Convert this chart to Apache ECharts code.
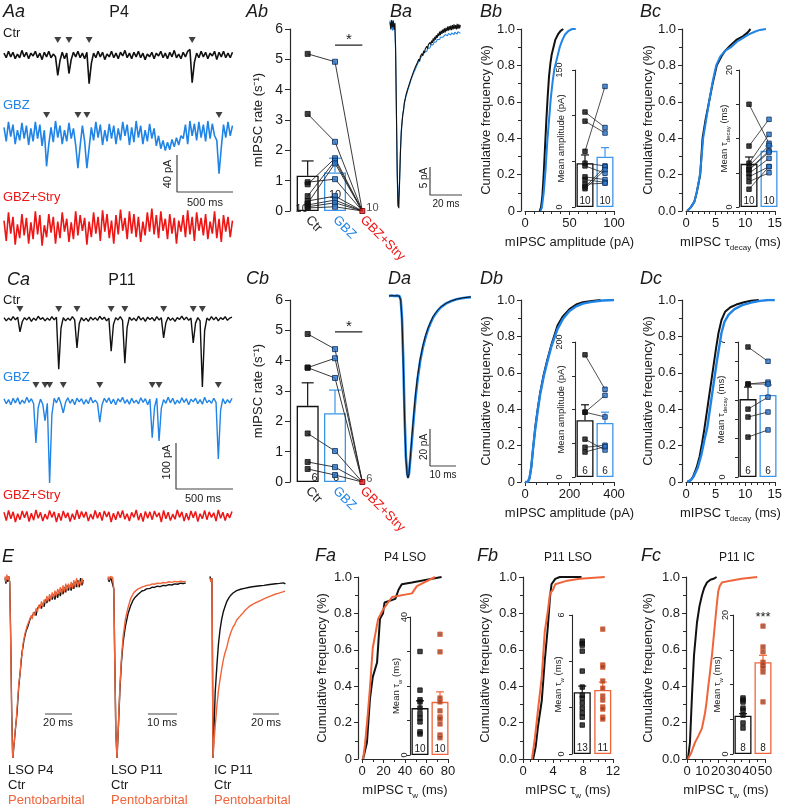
<!DOCTYPE html>
<html><head><meta charset="utf-8">
<script src="https://cdn.jsdelivr.net/npm/echarts@6/dist/echarts.min.js"></script>
<style>html,body{margin:0;padding:0;background:#fff}#c{width:785px;height:805px}</style>
</head><body><div id="c"></div>
<script>
// ================= DATA =================
// Aa: P4 spontaneous traces (pA relative to baseline), sampled every 20 ms
const dtP4 = 20;
const ctrP4 = [2,-3,4,-2,3,-4,1,-3,5,-2, 3,-4,2,-1,4,-3,2,-5,3,-2, 4,-3,1,-2,-22,-6,3,-4,2,-20, -5,3,-2,4,-3,2,-4,3,-31,-9,
 2,-3,4,-2,3,-5,1,-2,4,-3, 2,-4,3,-1,5,-3,2,-4,3,-2, 4,-3,2,-5,1,-2,3,-4,2,-1, 4,-3,2,-4,3,-2,5,-3,1,-4,
 3,-2,4,6,-30,-8,2,-3,4,-2, 3,-4,2,-1,4,-5,3,-2,4,-3, 2,-3,3];
const gbzP4 = [6,-9,12,-4,9,-12,3,-8,11,-6, 8,-13,5,-9,12,-6,9,-14,3,-36, -12,6,-10,13,-5,8,-12,3,-9,11, -6,5,-13,-38,-14,8,-9,-38,-16,6,
 -8,12,-5,9,-13,3,-9,10,-6,8, -12,5,-8,12,-3,9,-13,6,-10,13, -5,8,-12,3,-9,10,-6,5,-14,-3, -17,-8,-19,-10,-18,-7,-15,-5,-13,-3,
 -6,9,-12,13,-3,10,-8,12,-5,9, -9,13,-6,10,-3,-8,-44,-16,9,-5, 12,-3,8];
const stryP4 = [8,-14,17,-6,12,-18,4,-11,15,-8, 11,-17,6,-12,18,-7,14,-19,3,-10, 15,-5,12,-17,7,-11,17,-4,10,-15, 6,-12,18,-8,14,-3,11,-18,7,-10,
 17,-6,12,-14,19,-4,15,-11,8,-17, 14,-7,20,-3,11,-12,18,-6,15,-10, 12,-15,7,-8,17,-4,21,-7,14,-11, 18,-3,10,-12,15,-6,11,-17,8,-4,
 14,-10,19,-7,12,-14,17,-3,11,-8, 15,-12,7,-6,18,-11,10,-15,14,-4, 12,-10,8];
const ctrP4Events = [480, 580, 760, 1680];
const gbzP4Events = [380, 660, 740, 1920];
const scaleP4 = [500, 40];           // ms, pA

// Ca: P11 spontaneous traces, sampled every 20 ms
const dtP11 = 20;
const ctrP11 = [3,-4,2,-3,5,-2,4,-28,-6,3, -2,4,-5,2,-3,6,-1,3,-4,2, -3,5,-2,4,-109,-20,3,-4,2,-3, 5,-2,-63,-10,3,-4,2,-5,4,-2,
 3,-3,6,-1,4,-4,2,-70,-12,3, -2,5,-3,-96,-18,4,-3,2,-4,6, -2,3,-5,4,-1,3,-4,5,-2,3, -41,-8,4,-3,2,-5,3,-1,6,-2,
 4,-3,2,-52,-9,3,-4,-148,-25,2, -3,5,-2,4,-4,3,-1,5,-3,2, 4];
const gbzP11 = [5,-6,3,-8,6,-4,7,-7,2,-5, 8,-3,5,-6,-91,-14,4,-7,-43,-5, -178,-30,6,-4,8,-6,-26,-3,7,-5, 4,-8,6,-2,5,-7,3,-6,8,-4,
 2,-5,-46,-8,6,-3,7,-6,4,-8, 5,-2,8,-5,3,-7,6,-4,2,-6, 7,-3,5,-8,4,-80,-14,6,-87,-16, 3,-5,8,-4,6,-7,2,-5,7,-3,
 5,-8,4,-2,6,-6,3,-7,8,-4, 2,-5,6,-3,-126,-20,5,-6,3,-4, 6];
const stryP11 = [8,-10,12,-6,9,-13,5,-8,11,-4, 10,-12,6,-9,13,-5,8,-11,4,-7, 12,-3,9,-13,6,-10,11,-4,7,-12, 5,-8,13,-6,10,-3,9,-11,4,-7,
 12,-5,8,-10,11,-2,9,-13,6,-8, 10,-4,12,-7,5,-11,8,-3,13,-9, 6,-12,10,-5,9,-8,11,-2,7,-13, 12,-6,8,-10,4,-7,13,-3,9,-11,
 6,-9,11,-4,10,-12,5,-6,12,-8, 9,-3,7,-11,13,-5,8,-10,6,-4, 10];
const ctrP11Events = [140, 480, 640, 940, 1060, 1400, 1660, 1740];
const gbzP11Events = [280, 360, 400, 520, 840, 1300, 1360, 1880];
const scaleP11 = [500, 100];

// Ba: averaged P4 mIPSC (ms, pA)
const baCtr = [[0,0.5],[0.5,-0.8],[1,0.9],[1.5,-0.4],[2,0.7],[2.5,-0.9],[3,0.3],[3.5,-4],[4,-15],[4.5,-26],[5,-32],[5.5,-32.7],[6,-28],[6.5,-23],[7,-19.5],[7.5,-17.5],[8,-16],[8.5,-15.2],[9,-13.8],[9.5,-13.6],[10,-12.5],[10.5,-12.6],[11,-11.5],[11.5,-11.6],[12,-10.6],[12.5,-10.7],[13,-9.7],[13.5,-9.9],[14,-8.9],[14.5,-9.1],[15,-8.1],[15.5,-8.3],[16,-7.4],[16.5,-7.7],[17,-6.8],[17.5,-7.0],[18,-6.1],[18.5,-6.5],[19,-5.6],[19.5,-5.9],[20,-5.1],[20.5,-5.5],[21,-4.6],[21.5,-5.0],[22,-4.3],[22.5,-4.6],[23,-3.8],[23.5,-4.2],[24,-3.5],[24.5,-3.8],[25,-3.1],[25.5,-3.5],[26,-2.8],[26.5,-3.2],[27,-2.4],[27.5,-2.9],[28,-2.1],[28.5,-2.6],[29,-1.8],[29.5,-2.3],[30,-1.5],[30.5,-2.0],[31,-1.2],[31.5,-1.8],[32,-1.0],[32.5,-1.6],[33,-0.8],[33.5,-1.4],[34,-0.6],[34.5,-1.3],[35,-0.5],[35.5,-1.1],[36,-0.3],[36.5,-1.0],[37,-0.2],[37.5,-0.9],[38,-0.1],[38.5,-0.9],[39,0],[39.5,-0.8],[40,0.1],[40.5,-0.7],[41,0],[41.5,-0.8],[42,0.2],[42.5,-0.7],[43,0.1],[43.5,-0.6],[44,0]];
const baGbz = [[0,0.8],[0.5,-0.6],[1,0.5],[1.5,-1.0],[2,0.9],[2.5,-0.5],[3,0.4],[3.5,-5],[4,-16],[4.5,-27],[5,-32.5],[5.5,-32.5],[6,-27.5],[6.5,-22.5],[7,-19],[7.5,-17.3],[8,-15.8],[8.5,-15],[9,-14],[9.5,-13.4],[10,-12.7],[10.5,-12.3],[11,-11.7],[11.5,-11.3],[12,-10.8],[12.5,-10.4],[13,-9.9],[13.5,-9.6],[14,-9.1],[14.5,-8.8],[15,-8.4],[15.5,-8.1],[16,-7.8],[16.5,-7.4],[17,-7.2],[17.5,-6.8],[18,-6.7],[18.5,-6.2],[19,-6.2],[19.5,-5.7],[20,-5.8],[20.5,-5.3],[21,-5.4],[21.5,-4.9],[22,-5.0],[22.5,-4.6],[23,-4.7],[23.5,-4.2],[24,-4.4],[24.5,-3.9],[25,-4.1],[25.5,-3.6],[26,-3.8],[26.5,-3.3],[27,-3.5],[27.5,-3.1],[28,-3.3],[28.5,-2.8],[29,-3.0],[29.5,-2.6],[30,-2.8],[30.5,-2.4],[31,-2.6],[31.5,-2.2],[32,-2.4],[32.5,-2.0],[33,-2.2],[33.5,-1.9],[34,-2.1],[34.5,-1.7],[35,-2.0],[35.5,-1.6],[36,-1.9],[36.5,-1.5],[37,-1.8],[37.5,-1.4],[38,-1.8],[38.5,-1.4],[39,-1.7],[39.5,-1.3],[40,-1.7],[40.5,-1.3],[41,-1.6],[41.5,-1.2],[42,-1.6],[42.5,-1.2],[43,-1.5],[43.5,-1.2],[44,-1.5]];
const scaleBa = [20, 5];

// Da: averaged P11 mIPSC (ms, pA)
const daGbz = [[0,0],[1,0.3],[2,0],[3,0.2],[4,0],[4.5,-2],[5,-12],[5.5,-35],[6,-65],[6.5,-87],[7,-96],[7.3,-98],[7.7,-96],[8.2,-88],[8.8,-78],[9.5,-66],[10.2,-55],[11,-45],[12,-35],[13,-28],[14,-22.5],[15,-18],[16,-14.5],[17,-11.5],[18,-9.3],[19,-7.5],[20,-6],[22,-4],[24,-2.7],[26,-1.8],[28,-1.2],[30,-0.8],[31.5,-0.6]];
const daCtr = [[0,0],[1,0.2],[2,0.1],[3,0.1],[4,0],[4.5,-2.5],[5,-13],[5.5,-37],[6,-67],[6.5,-88],[7,-97],[7.3,-98.5],[7.7,-96],[8.2,-87],[8.8,-76],[9.5,-64],[10.2,-53],[11,-43],[12,-34],[13,-27],[14,-21.5],[15,-17.3],[16,-14],[17,-11],[18,-9],[19,-7.2],[20,-5.8],[22,-3.9],[24,-2.6],[26,-1.7],[28,-1.1],[30,-0.7],[31.5,-0.5]];
const scaleDa = [10, 20];

// Ab / Cb: mIPSC rate (s^-1)
const rateCats = ['Ctr', 'GBZ', 'GBZ+Stry'];
const abCtr = [5.18,3.2,0.95,0.88,0.49,0.33,0.25,0.2,0.14,0.1];
const abGbz = [4.92,2.28,1.05,1.74,1.66,0.49,1.57,0.36,0.27,0.14];
const abStry = [0,0,0,0,0,0,0,0,0,0];
const abMean = [1.16,1.27];
const abErrTop = [1.65,1.74];
const abN = [10,10,10];
const abSig = 5.47;
const cbCtr = [4.88,3.77,3.77,1.6,0.66,0.43];
const cbGbz = [4.38,4.08,3.43,1.02,0.49,0.23];
const cbStry = [0,0,0,0,0,0];
const cbMean = [2.51,2.27];
const cbErrTop = [3.27,3.03];
const cbN = [6,6,6];
const cbSig = 4.95;

// Cumulative distributions [x, fraction]
const bbCtrCum = [[16.5,0],[18,0.02],[19.5,0.08],[21,0.2],[22.5,0.35],[24,0.5],[25.5,0.63],[27,0.74],[28.5,0.81],[30,0.86],[32,0.9],[34,0.94],[37,0.97],[40,0.99],[43,1.0]];
const bbGbzCum = [[17.5,0],[19,0.02],[21,0.1],[23,0.22],[25,0.38],[27,0.5],[29,0.62],[31,0.71],[33,0.78],[36,0.84],[39,0.9],[42,0.94],[45,0.97],[49,0.99],[53,1.0],[57,1.0]];
const bcCtrCum = [[0.2,0],[0.8,0.02],[1.4,0.05],[1.8,0.1],[2.1,0.15],[2.4,0.2],[2.6,0.3],[2.8,0.4],[3.3,0.5],[3.9,0.6],[4.5,0.7],[5.2,0.8],[6,0.85],[6.6,0.88],[7.5,0.91],[8.5,0.94],[9.6,0.96],[10.4,0.98],[10.9,1.0]];
const bcGbzCum = [[0.2,0],[0.8,0.02],[1.4,0.05],[1.8,0.1],[2.1,0.15],[2.4,0.21],[2.65,0.3],[2.9,0.4],[3.4,0.5],[3.9,0.6],[4.5,0.71],[5.1,0.8],[5.8,0.85],[6.6,0.88],[7.6,0.9],[8.6,0.93],[9.6,0.95],[10.6,0.97],[11.6,0.985],[12.5,0.995],[13.5,1.0]];
const dbCtrCum = [[0,0],[12,0],[20,0.02],[28,0.08],[36,0.18],[46,0.3],[57,0.4],[68,0.49],[84,0.59],[100,0.67],[120,0.76],[146,0.86],[170,0.91],[200,0.95],[230,0.975],[260,0.988],[300,0.995],[340,1.0]];
const dbGbzCum = [[0,0],[12,0],[20,0.02],[28,0.08],[36,0.18],[46,0.29],[57,0.39],[68,0.48],[84,0.58],[100,0.66],[120,0.75],[146,0.84],[170,0.895],[200,0.94],[230,0.965],[260,0.98],[300,0.99],[350,0.997],[400,1.0]];
const dcCtrCum = [[0.2,0],[0.8,0.01],[1.2,0.03],[1.8,0.08],[2.3,0.14],[2.7,0.21],[3.1,0.29],[3.5,0.38],[3.9,0.47],[4.3,0.56],[4.7,0.65],[5.1,0.74],[5.5,0.82],[6,0.89],[6.6,0.935],[7.5,0.96],[8.5,0.975],[9.8,0.988],[11,0.996],[12.3,1.0]];
const dcGbzCum = [[0.2,0],[0.8,0.01],[1.3,0.03],[2,0.08],[2.6,0.15],[3.1,0.23],[3.6,0.3],[4.0,0.39],[4.4,0.48],[4.8,0.57],[5.2,0.66],[5.6,0.74],[6.0,0.82],[6.5,0.88],[7.2,0.92],[8.2,0.95],[9.5,0.972],[11,0.986],[12.5,0.995],[14,1.0],[15,1.0]];
const faCtrCum = [[1,0],[4.6,0.09],[7.4,0.33],[10,0.45],[14,0.53],[16.7,0.77],[19.5,0.8],[21,0.86],[31,0.88],[34,0.93],[37,0.96],[46.5,0.97],[74,1.0]];
const faPentoCum = [[1,0],[2.8,0.08],[5,0.22],[7.4,0.39],[10,0.61],[15,0.77],[19.5,0.82],[28,0.89],[46.5,0.91],[51,0.95],[68,1.0]];
const fbCtrCum = [[1.35,0],[1.7,0.07],[2.0,0.18],[2.5,0.32],[2.9,0.54],[3.3,0.72],[3.6,0.89],[3.8,0.96],[4.3,0.99],[4.9,1.0],[7.8,1.0]];
const fbPentoCum = [[1.2,0],[1.6,0.12],[2.0,0.27],[2.5,0.45],[2.9,0.7],[3.3,0.81],[3.6,0.91],[4.0,0.93],[4.3,0.96],[5.9,0.98],[7.6,0.99],[10.9,1.0]];
const fcCtrCum = [[0.6,0],[1.9,0.09],[3.2,0.35],[4.5,0.57],[6.4,0.75],[8,0.84],[9.6,0.9],[11,0.94],[12.8,0.97],[15,0.985],[17,0.99],[19,1.0]];
const fcPentoCum = [[0.6,0],[2.5,0.03],[5.1,0.09],[7.5,0.13],[9.6,0.17],[11.5,0.25],[12.5,0.31],[13.5,0.39],[14.8,0.48],[16,0.57],[17,0.66],[18,0.75],[19,0.84],[20,0.92],[21,0.95],[22.4,0.97],[28,0.98],[35,0.99],[45,1.0]];

// Inset bar data: [Ctr, drug] means, mean+SEM tops, individual cells, n
const bbMean = [48,55], bbErr = [57,65], bbN = [10,10];
const bbCtrPts = [104,94,61,48,45,33,30,25,22,20];
const bbGbzPts = [87,81,132,45,37,30,27,26,44,41];
const bcMean = [6.3,8.2], bcErr = [7.3,8.9], bcN = [10,10];
const bcCtrPts = [15.0,8.9,6.4,5.5,5.4,4.9,4.4,3.7,6.0,2.6];
const bcGbzPts = [9.3,12.8,10.6,8.2,8.0,7.1,5.9,5.0,9.0,5.9];
const dbMean = [84,80], dbErr = [107,96], dbN = [6,6];
const dbCtrPts = [181,96,96,56,44,37];
const dbGbzPts = [130,121,89,40,47,45];
const dcMean = [4.04,4.25], dcErr = [4.66,4.77], dcN = [6,6];
const dcCtrPts = [6.74,4.82,4.82,3.52,3.11,2.07];
const dcGbzPts = [6.0,4.92,4.82,4.14,3.37,2.44];
const faMean = [13.6,15.4], faErr = [15.7,18.3], faN = [10,10];
const faCtrPts = [30,18.8,16,15.4,13.6,12,10.7,9.6,6.7,6.1];
const faPentoPts = [35,29.9,16.5,15.4,12.8,11,10.5,9,5.8,5];
const fbMean = [2.67,2.76], fbErr = [2.93,3.1], fbN = [13,11];
const fbCtrPts = [4.87,4.78,4.70,4.44,3.58,2.89,2.54,2.41,2.2,1.98,1.77,1.59,1.25];
const fbPentoPts = [5.39,3.84,3.75,3.15,2.84,2.5,2.33,2.03,1.94,1.59,1.51];
const fcMean = [5.5,13.2], fcErr = [5.8,14.2], fcN = [8,8];
const fcCtrPts = [8.06,7.77,7.48,6.6,6.3,5.6,4.46,3.74];
const fcPentoPts = [18.4,15.4,14.7,13.2,12.8,12.4,11.8,7.5];

// E: peak-normalized averaged mIPSCs (ms, normalized amplitude)
const e1Ctr = [[0,0.01],[0.7,-0.02],[1.4,0.02],[2.1,-0.01],[2.8,0.02],[3.5,-0.01],[4.2,-0.3],[4.9,-0.7],[5.6,-0.97],[5.9,-1.0],[6.4,-0.95],[7,-0.9],[7.6,-0.85],[8.2,-0.8],[8.9,-0.75],[9.5,-0.68],[10.2,-0.6],[11.1,-0.53],[12,-0.46],[12.7,-0.4],[13.3,-0.38],[14,-0.34],[14.8,-0.33],[15.5,-0.29],[16.3,-0.28],[17,-0.26],[17.8,-0.25],[18.6,-0.22],[19.4,-0.23],[20.2,-0.2],[21,-0.21],[22,-0.18],[23,-0.2],[24,-0.16],[25,-0.17],[26,-0.14],[27,-0.16],[28,-0.13],[29,-0.15],[30,-0.11],[31,-0.13],[32,-0.1],[33,-0.12],[34,-0.09],[35,-0.11],[36,-0.08],[37,-0.11],[38,-0.07],[39,-0.1],[40,-0.06],[41,-0.09],[42,-0.05],[43,-0.08],[44,-0.04],[45,-0.07],[46,-0.03],[47,-0.06],[48,-0.03],[49,-0.06],[50,-0.02],[51,-0.05],[52,-0.01],[53,-0.04],[54,0],[55,-0.04],[56,0.01],[57,-0.03],[58,0]];
const e1Pento = [[0,0.02],[0.7,-0.01],[1.4,0.03],[2.1,0],[2.8,0.02],[3.5,-0.02],[4.2,-0.35],[4.9,-0.75],[5.6,-0.98],[5.9,-1.0],[6.4,-0.94],[7,-0.9],[7.6,-0.84],[8.2,-0.8],[8.9,-0.72],[9.5,-0.66],[10.2,-0.58],[11.1,-0.53],[12,-0.44],[12.7,-0.42],[13.3,-0.36],[14,-0.35],[14.8,-0.3],[15.5,-0.3],[16.3,-0.26],[17,-0.27],[17.8,-0.23],[18.6,-0.24],[19.4,-0.2],[20.2,-0.22],[21,-0.18],[22,-0.2],[23,-0.16],[24,-0.18],[25,-0.14],[26,-0.16],[27,-0.12],[28,-0.15],[29,-0.11],[30,-0.13],[31,-0.09],[32,-0.12],[33,-0.08],[34,-0.11],[35,-0.07],[36,-0.1],[37,-0.06],[38,-0.09],[39,-0.05],[40,-0.08],[41,-0.04],[42,-0.08],[43,-0.03],[44,-0.07],[45,-0.02],[46,-0.06],[47,-0.02],[48,-0.05],[49,-0.01],[50,-0.05],[51,0],[52,-0.04],[53,0.01],[54,-0.04],[55,0],[56,-0.03],[57,0.01],[58,-0.02]];
const e2Ctr = [[0,0.01],[0.4,-0.01],[0.8,0.015],[1.2,0],[1.6,0.01],[2.0,-0.05],[2.3,-0.4],[2.7,-0.85],[3.1,-1.0],[3.5,-0.86],[4.1,-0.62],[4.6,-0.47],[5.2,-0.35],[6,-0.26],[6.9,-0.19],[7.8,-0.145],[8.6,-0.115],[9.2,-0.1],[9.8,-0.09],[10.4,-0.08],[11,-0.075],[11.7,-0.062],[12.5,-0.058],[13.3,-0.05],[14.5,-0.047],[15.3,-0.04],[16,-0.042],[17,-0.035],[18,-0.037],[19,-0.03],[20,-0.032],[21,-0.026],[22,-0.028],[23,-0.022],[24,-0.024],[25,-0.018],[26,-0.02],[26.8,-0.016]];
const e2Pento = [[0,0.02],[0.4,0],[0.8,0.02],[1.2,0.01],[1.6,0.015],[2.0,-0.05],[2.3,-0.42],[2.7,-0.86],[3.1,-1.0],[3.5,-0.85],[4.1,-0.6],[4.6,-0.45],[5.2,-0.32],[6,-0.22],[6.9,-0.155],[7.8,-0.105],[8.6,-0.08],[9.2,-0.065],[9.8,-0.06],[10.4,-0.05],[11,-0.048],[11.7,-0.04],[12.5,-0.036],[13.3,-0.03],[14.5,-0.028],[15.3,-0.022],[16,-0.024],[17,-0.018],[18,-0.02],[19,-0.014],[20,-0.016],[21,-0.01],[22,-0.013],[23,-0.008],[24,-0.011],[25,-0.006],[26,-0.01],[26.8,-0.008]];
const e3Ctr = [[0,0.02],[0.8,-0.01],[1.5,0.01],[1.9,-0.45],[2.3,-1.0],[3,-0.86],[4,-0.63],[5.4,-0.47],[6.5,-0.36],[7.7,-0.28],[9,-0.22],[10.2,-0.18],[11.5,-0.15],[13,-0.12],[14.5,-0.1],[16,-0.085],[17.7,-0.073],[19,-0.066],[20.5,-0.06],[22,-0.062],[23.5,-0.052],[25,-0.056],[26.5,-0.047],[28,-0.05],[29.5,-0.042],[31,-0.046],[32.5,-0.038],[34,-0.043],[35.5,-0.035],[37,-0.04],[38.5,-0.032],[40,-0.037],[41.5,-0.03],[43,-0.034],[44.5,-0.027],[46,-0.032],[47.5,-0.024],[49,-0.029],[50.5,-0.021],[52,-0.027],[53.5,-0.019],[55,-0.024],[56.5,-0.016],[58,-0.022]];
const e3Pento = [[0,0.01],[0.8,-0.01],[1.5,0.01],[1.9,-0.45],[2.3,-1.0],[3,-0.92],[4,-0.82],[5.4,-0.7],[6.5,-0.62],[7.7,-0.56],[9,-0.5],[10.2,-0.45],[11.5,-0.41],[13,-0.376],[14.5,-0.33],[16,-0.295],[17.7,-0.264],[19,-0.25],[20.5,-0.225],[22,-0.215],[23.5,-0.2],[25.4,-0.185],[27,-0.17],[28.5,-0.165],[30,-0.15],[31.5,-0.147],[33,-0.136],[34.5,-0.132],[36.2,-0.124],[38,-0.118],[39.5,-0.11],[41,-0.107],[42.5,-0.1],[44,-0.098],[45.5,-0.09],[47,-0.089],[48.5,-0.084],[50,-0.08],[51.5,-0.075],[53,-0.074],[54.5,-0.068],[56,-0.067],[57.7,-0.062]];
const scaleE = [20, 10, 20];   // ms

// ================= STYLE / HELPERS =================
const FONT = '"Liberation Sans", Arial, Helvetica, sans-serif';
const TXT = '#1a1a1a', AX = '#2a2a2a', BLACK = '#111111';
const BLUE = '#1f84e6', BLUEBAR = '#3d95e8', RED = '#ee1515', ORANGE = '#f0643a';
const RICH13 = {n:{fontSize:13,color:TXT,fontFamily:FONT,verticalAlign:'bottom',padding:[0,0,3,0]}, s:{fontSize:8,color:TXT,fontFamily:FONT,verticalAlign:'bottom'}};
const RICH9 = {n:{fontSize:9.5,color:TXT,fontFamily:FONT,verticalAlign:'bottom',padding:[0,0,2,0]}, s:{fontSize:6,color:TXT,fontFamily:FONT,verticalAlign:'bottom'}};

const grids = [], xAxes = [], yAxes = [], series = [], graphics = [];
function addGrid(rect, xa, ya) {
  grids.push(Object.assign({containLabel:false}, rect));
  const i = grids.length - 1;
  xAxes.push(Object.assign({gridIndex:i, nameMoveOverlap:false}, xa));
  yAxes.push(Object.assign({gridIndex:i, nameMoveOverlap:false}, ya));
  return i;
}
function line(gi, data, color, width, z) {
  series.push({type:'line', xAxisIndex:gi, yAxisIndex:gi, data, symbol:'none', showSymbol:false,
    lineStyle:{color, width}, itemStyle:{color}, silent:true, animation:false, z:z||2});
}
function T(x, y, text, o) {
  o = o || {};
  graphics.push({type:'text', x, y, rotation:o.rot||0, silent:true, z:100,
    style:{text, fill:o.color||TXT, font:(o.italic?'italic ':'')+(o.size||13)+'px '+FONT,
      textAlign:o.align||'left', textVerticalAlign:'middle'}});
}
// trace panels: axes hidden, pixel scale fixed
function traceGrid(left, top, width, height, pxX, pxY) {
  const gi = addGrid({left, top, width, height},
    {type:'value', min:0, max:width/pxX, show:false},
    {type:'value', min:-height/pxY, max:0, show:false});
  return {gi, X:(px)=>(px-left)/pxX, Y:(py)=>-(py-top)/pxY};
}
function sampledTrace(tg, arr, dt, basePx, color, w) {
  const off = tg.Y(basePx);
  line(tg.gi, arr.map((v,i)=>[i*dt, v+off]), color, w);
}
function pairTrace(tg, arr, basePx, color, w) {
  const off = tg.Y(basePx);
  line(tg.gi, arr.map(p=>[p[0], p[1]+off]), color, w);
}
function arrows(tg, times, yPx) {
  series.push({type:'scatter', xAxisIndex:tg.gi, yAxisIndex:tg.gi, data:times.map(t=>[t, tg.Y(yPx)]),
    symbol:'triangle', symbolRotate:180, symbolSize:[7,6], itemStyle:{color:'#111'}, silent:true, animation:false});
}
function scaleBar(tg, xPx, yPx, lenX, lenY) {
  const x0 = tg.X(xPx), y0 = tg.Y(yPx);
  const pts = lenY ? [[x0, y0+lenY],[x0, y0],[x0+lenX, y0]] : [[x0, y0],[x0+lenX, y0]];
  line(tg.gi, pts, '#444', 1.2);
}
function errRender(colors, cap) {
  return function (params, api) {
    const x = api.value(0), lo = api.value(1), hi = api.value(2);
    const p1 = api.coord([x, lo]), p2 = api.coord([x, hi]);
    const c = colors[params.dataIndex];
    return {type:'group', children:[
      {type:'line', shape:{x1:p1[0], y1:p1[1], x2:p2[0], y2:p2[1]}, style:{stroke:c, lineWidth:1.2}},
      {type:'line', shape:{x1:p2[0]-cap, y1:p2[1], x2:p2[0]+cap, y2:p2[1]}, style:{stroke:c, lineWidth:1.2}}
    ]};
  };
}
function pts(gi, cat, vals, fill, border, size) {
  series.push({type:'scatter', xAxisIndex:gi, yAxisIndex:gi, data:vals.map(v=>[cat, v]), symbol:'rect',
    symbolSize:size||5, itemStyle:{color:fill, borderColor:border, borderWidth:1}, silent:true, animation:false, z:5});
}

// cumulative plots
function cumGrid(o) {
  const tick = {show:true, length:4, lineStyle:{color:AX, width:1}};
  const minor = (n)=>({show:true, splitNumber:n, length:3, lineStyle:{color:AX, width:1}});
  return addGrid({left:o.left, top:o.top, width:o.width, height:o.height},
    {type:'value', min:0, max:o.xmax, interval:o.xint, splitLine:{show:false},
     axisLine:{show:true, onZero:false, lineStyle:{color:AX, width:1.2}}, axisTick:tick, minorTick:minor(o.xsplit),
     axisLabel:{fontSize:13, color:TXT, fontFamily:FONT, margin:6},
     name:o.xname, nameLocation:'middle', nameGap:25,
     nameTextStyle:{fontSize:13, color:TXT, fontFamily:FONT, rich:RICH13}},
    {type:'value', min:0, max:1, interval:0.2, offset:o.off, splitLine:{show:false},
     axisLine:{show:true, onZero:false, lineStyle:{color:AX, width:1.2}}, axisTick:tick, minorTick:minor(2),
     axisLabel:{fontSize:13, color:TXT, fontFamily:FONT, margin:6, formatter:(v)=> v===0 ? o.zero : v.toFixed(1)},
     name:'Cumulative frequency (%)', nameLocation:'middle', nameGap:o.ygap,
     nameTextStyle:{fontSize:13, color:TXT, fontFamily:FONT}});
}
// inset bar charts
function inset(rect, o) {
  const gi = addGrid(rect,
    {type:'category', data:['a','b'], show:false},
    {type:'value', min:0, max:o.max, interval:o.int, splitLine:{show:false},
     axisLine:{show:true, lineStyle:{color:AX, width:1.1}}, axisTick:{show:true, length:3, lineStyle:{color:AX}},
     axisLabel:{rotate:90, fontSize:9, color:TXT, fontFamily:FONT, margin:o.lm,
       formatter:(v)=> (v===0 || v===o.max) ? String(v) : ''},
     name:o.name, nameLocation:'middle', nameGap:o.gap, nameRotate:90,
     nameTextStyle:{fontSize:9.5, color:TXT, fontFamily:FONT, rich:RICH9}});
  const cols = [BLACK, o.col2];
  series.push({type:'bar', xAxisIndex:gi, yAxisIndex:gi, barWidth:17, silent:true, animation:false, z:2,
    data:o.mean.map((m,i)=>({value:m, itemStyle:{color:'#fff', borderColor:cols[i], borderWidth:1.3}})),
    label:{show:true, position:'insideBottom', distance:1, fontSize:10, color:TXT, fontFamily:FONT,
      formatter:(p)=>String(o.n[p.dataIndex])}});
  series.push({type:'custom', xAxisIndex:gi, yAxisIndex:gi, silent:true, animation:false, z:3,
    data:o.mean.map((m,i)=>[i, m, o.err[i]]), renderItem:errRender(cols, 4)});
  if (o.paired) o.a.forEach((v,k)=> line(gi, [[0, v],[1, o.b[k]]], '#222', 0.8, 4));
  pts(gi, 0, o.a, BLACK, BLACK, 4.5);
  pts(gi, 1, o.b, o.pfill, o.pborder, 4.5);
}
// rate plots (Ab, Cb)
function rateGrid(top, d) {
  const gi = addGrid({left:294, top, width:82, height:182},
    {type:'category', data:rateCats, axisLine:{show:false}, axisTick:{show:false},
     axisLabel:{rotate:-45, fontSize:13, margin:7, fontFamily:FONT, color:(v,i)=>[TXT, BLUE, RED][i]}},
    {type:'value', min:0, max:6, interval:1, offset:4, splitLine:{show:false},
     axisLine:{show:true, lineStyle:{color:AX, width:1.2}}, axisTick:{show:true, length:5, lineStyle:{color:AX}},
     axisLabel:{fontSize:14, color:TXT, fontFamily:FONT, margin:7},
     name:'mIPSC rate (s⁻¹)', nameLocation:'middle', nameGap:25,
     nameTextStyle:{fontSize:13, color:TXT, fontFamily:FONT}});
  const cols = [BLACK, BLUEBAR];
  series.push({type:'bar', xAxisIndex:gi, yAxisIndex:gi, barWidth:22, silent:true, animation:false, z:2,
    data:[{value:d.mean[0], itemStyle:{color:'#fff', borderColor:cols[0], borderWidth:1.3}, label:{offset:d.off[0]}},
          {value:d.mean[1], itemStyle:{color:'#fff', borderColor:cols[1], borderWidth:1.3}, label:{offset:d.off[1]}}, '-'],
    label:{show:true, position:'insideBottom', distance:1, fontSize:11, color:TXT, fontFamily:FONT,
      formatter:(p)=>String(d.n[p.dataIndex])}});
  series.push({type:'custom', xAxisIndex:gi, yAxisIndex:gi, silent:true, animation:false, z:3,
    data:d.mean.map((m,i)=>[i, m, d.err[i]]), renderItem:errRender(cols, 6)});
  d.ctr.forEach((v,k)=> line(gi, [[0, v],[1, d.gbz[k]],[2, d.stry[k]]], '#222', 0.9, 4));
  line(gi, [[1, d.sig],[2, d.sig]], '#222', 1.2, 4);
  pts(gi, 0, d.ctr, BLACK, BLACK, 5);
  pts(gi, 1, d.gbz, '#2b78d0', '#0d2a55', 5);
  series.push({type:'scatter', xAxisIndex:gi, yAxisIndex:gi, data:[[2, d.stry[0]]], symbol:'rect', symbolSize:5,
    itemStyle:{color:RED, borderColor:'#5a0000', borderWidth:1}, silent:true, animation:false, z:6,
    label:{show:true, position:'right', distance:1, offset:[0,-3], fontSize:11, color:TXT, fontFamily:FONT,
      formatter:()=>String(d.n[2])}});
}

// ================= BUILD =================
// ---- Aa ----
const aa = traceGrid(4, 35, 230, 220, 0.112, 0.925);
sampledTrace(aa, ctrP4, dtP4, 55, BLACK, 1.6);
sampledTrace(aa, gbzP4, dtP4, 133, BLUE, 1.6);
sampledTrace(aa, stryP4, dtP4, 228, RED, 1.6);
arrows(aa, ctrP4Events, 40);
arrows(aa, gbzP4Events, 115);
scaleBar(aa, 177, 192, scaleP4[0], scaleP4[1]);
// ---- Ca ----
const ca = traceGrid(4, 290, 230, 240, 0.114, 0.46);
sampledTrace(ca, ctrP11, dtP11, 319, BLACK, 1.4);
sampledTrace(ca, gbzP11, dtP11, 401, BLUE, 1.4);
sampledTrace(ca, stryP11, dtP11, 516, RED, 1.5);
arrows(ca, ctrP11Events, 309);
arrows(ca, gbzP11Events, 385);
scaleBar(ca, 176, 489, scaleP11[0], scaleP11[1]);
// ---- Ba ----
const ba = traceGrid(390, 15, 80, 200, 1.6, 5.6);
pairTrace(ba, baGbz, 25, BLUE, 1.1);
pairTrace(ba, baCtr, 25, BLACK, 1.1);
scaleBar(ba, 430, 195, scaleBa[0], scaleBa[1]);
// ---- Da ----
const da = traceGrid(389, 290, 85, 195, 2.6, 1.85);
pairTrace(da, daGbz, 296, BLUE, 2.6);
pairTrace(da, daCtr, 296, BLACK, 1);
scaleBar(da, 430, 466, scaleDa[0], scaleDa[1]);
// ---- E ----
const e1 = traceGrid(5, 570, 82, 195, 1.35, 178);
pairTrace(e1, e1Ctr, 580, BLACK, 1.3);
pairTrace(e1, e1Pento, 580, ORANGE, 1.3);
scaleBar(e1, 45, 714, scaleE[0], 0);
const e2 = traceGrid(108, 570, 80, 195, 2.9, 178);
pairTrace(e2, e2Ctr, 580, BLACK, 1.4);
pairTrace(e2, e2Pento, 580, ORANGE, 1.4);
scaleBar(e2, 148, 714, scaleE[1], 0);
const e3 = traceGrid(210, 570, 80, 195, 1.3, 178);
pairTrace(e3, e3Ctr, 580, BLACK, 1.4);
pairTrace(e3, e3Pento, 580, ORANGE, 1.4);
scaleBar(e3, 253, 714, scaleE[2], 0);

// ---- Ab / Cb ----
rateGrid(29, {mean:abMean, err:abErrTop, n:abN, ctr:abCtr, gbz:abGbz, stry:abStry, sig:abSig, off:[[-6,4],[0,-10]]});
rateGrid(300, {mean:cbMean, err:cbErrTop, n:cbN, ctr:cbCtr, gbz:cbGbz, stry:cbStry, sig:cbSig, off:[[7,2],[1,2]]});

// ---- cumulative panels ----
const TD = '{n|mIPSC τ}{s|decay}{n| (ms)}', TW = '{n|mIPSC τ}{s|w}{n| (ms)}';
const gBb = cumGrid({left:525, top:29, width:89, height:182, xmax:100, xint:50, xsplit:5, off:4, zero:'0', ygap:28, xname:'mIPSC amplitude (pA)'});
line(gBb, bbCtrCum, BLACK, 2); line(gBb, bbGbzCum, BLUE, 2);
const gBc = cumGrid({left:686, top:29, width:91, height:182, xmax:15, xint:5, xsplit:5, off:4, zero:'0.0', ygap:27, xname:TD});
line(gBc, bcCtrCum, BLACK, 2); line(gBc, bcGbzCum, BLUE, 2);
const gDb = cumGrid({left:525, top:300, width:89, height:182, xmax:400, xint:200, xsplit:4, off:4, zero:'0', ygap:28, xname:'mIPSC amplitude (pA)'});
line(gDb, dbCtrCum, BLACK, 2); line(gDb, dbGbzCum, BLUE, 2.4);
const gDc = cumGrid({left:686, top:300, width:91, height:182, xmax:15, xint:5, xsplit:5, off:4, zero:'0', ygap:27, xname:TD});
line(gDc, dcCtrCum, BLACK, 2); line(gDc, dcGbzCum, BLUE, 2.4);
const gFa = cumGrid({left:362, top:577, width:86, height:182, xmax:80, xint:20, xsplit:2, off:4, zero:'0', ygap:29, xname:TW});
line(gFa, faCtrCum, BLACK, 2); line(gFa, faPentoCum, ORANGE, 2);
const gFb = cumGrid({left:523, top:577, width:90, height:182, xmax:12, xint:4, xsplit:4, off:0, zero:'0.0', ygap:31, xname:TW});
line(gFb, fbCtrCum, BLACK, 2); line(gFb, fbPentoCum, ORANGE, 2);
const gFc = cumGrid({left:687, top:577, width:78, height:182, xmax:50, xint:10, xsplit:2, off:1, zero:'0.0', ygap:31, xname:TW});
line(gFc, fcCtrCum, BLACK, 2); line(gFc, fcPentoCum, ORANGE, 2);

// ---- insets ----
const PB = {col2:BLUEBAR, pfill:'#2b78d0', pborder:'#0d2a55', paired:true};
const PO = {col2:ORANGE, pfill:'#8c3f26', pborder:'#e8643a', paired:false};
inset({left:575, top:70, width:40, height:137}, Object.assign({max:150, int:50, lm:11, gap:9, name:'Mean amplitude (pA)', mean:bbMean, err:bbErr, n:bbN, a:bbCtrPts, b:bbGbzPts}, PB));
inset({left:739, top:70, width:40, height:137}, Object.assign({max:20, int:5, lm:5, gap:8, name:'{n|Mean τ}{s|decay}{n| (ms)}', mean:bcMean, err:bcErr, n:bcN, a:bcCtrPts, b:bcGbzPts}, PB));
inset({left:575, top:342, width:40, height:135}, Object.assign({max:200, int:50, lm:11, gap:9, name:'Mean amplitude (pA)', mean:dbMean, err:dbErr, n:dbN, a:dbCtrPts, b:dbGbzPts}, PB));
inset({left:738, top:342, width:40, height:135}, Object.assign({max:7, int:1, lm:11, gap:10, name:'{n|Mean τ}{s|decay}{n| (ms)}', mean:dcMean, err:dcErr, n:dcN, a:dcCtrPts, b:dcGbzPts}, PB));
inset({left:410, top:617, width:40, height:138}, Object.assign({max:40, int:10, lm:1, gap:7, name:'{n|Mean τ}{s|w}{n| (ms)}', mean:faMean, err:faErr, n:faN, a:faCtrPts, b:faPentoPts}, PO));
inset({left:572, top:615, width:41, height:139}, Object.assign({max:6, int:2, lm:6, gap:7, name:'{n|Mean τ}{s|w}{n| (ms)}', mean:fbMean, err:fbErr, n:fbN, a:fbCtrPts, b:fbPentoPts}, PO));
inset({left:733, top:615, width:40, height:139}, Object.assign({max:20, int:5, lm:3, gap:9, name:'{n|Mean τ}{s|w}{n| (ms)}', mean:fcMean, err:fcErr, n:fcN, a:fcCtrPts, b:fcPentoPts}, PO));

// ---- text ----
const PL = {italic:true, size:18};
T(3, 12, 'Aa', PL); T(119, 13, 'P4', {size:16, align:'center'});
T(246, 12, 'Ab', PL); T(390, 12, 'Ba', PL); T(480, 12, 'Bb', PL); T(640, 12, 'Bc', PL);
T(7, 280, 'Ca', PL); T(122, 281, 'P11', {size:16, align:'center'});
T(246, 279, 'Cb', PL); T(388, 279, 'Da', PL); T(480, 279, 'Db', PL); T(640, 279, 'Dc', PL);
T(2, 557, 'E', PL); T(315, 556, 'Fa', PL); T(477, 556, 'Fb', PL); T(641, 556, 'Fc', PL);
T(405, 558, 'P4 LSO', {size:12, align:'center'}); T(568, 558, 'P11 LSO', {size:12, align:'center'}); T(737, 558, 'P11 IC', {size:12, align:'center'});
T(3, 33, 'Ctr'); T(3, 105, 'GBZ', {color:BLUE}); T(3, 197, 'GBZ+Stry', {color:RED});
T(3, 300, 'Ctr'); T(3, 377, 'GBZ', {color:BLUE}); T(3, 495, 'GBZ+Stry', {color:RED});
T(168, 174, '40 pA', {size:11, align:'center', rot:Math.PI/2}); T(205, 203, '500 ms', {size:11, align:'center'});
T(167, 462, '100 pA', {size:11, align:'center', rot:Math.PI/2}); T(203, 499, '500 ms', {size:11, align:'center'});
T(424, 178, '5 pA', {size:10, align:'center', rot:Math.PI/2}); T(446, 204, '20 ms', {size:10, align:'center'});
T(424, 447, '20 pA', {size:10, align:'center', rot:Math.PI/2}); T(443, 475, '10 ms', {size:10, align:'center'});
T(58, 723, '20 ms', {size:11, align:'center'}); T(162, 723, '10 ms', {size:11, align:'center'}); T(266, 723, '20 ms', {size:11, align:'center'});
[[8,'LSO P4'],[111,'LSO P11'],[214,'IC P11']].forEach(([x,s])=>{ T(x, 770, s); T(x, 785, 'Ctr'); T(x, 800, 'Pentobarbital', {color:ORANGE}); });
T(349, 40, '*', {size:15, align:'center'}); T(349, 327, '*', {size:15, align:'center'});
T(763, 617, '***', {size:13, align:'center'});

const chart = echarts.init(document.getElementById('c'), null, {renderer:'canvas'});
chart.setOption({animation:false, backgroundColor:'#fff', grid:grids, xAxis:xAxes, yAxis:yAxes, series, graphic:{elements:graphics}});
</script></body></html>
